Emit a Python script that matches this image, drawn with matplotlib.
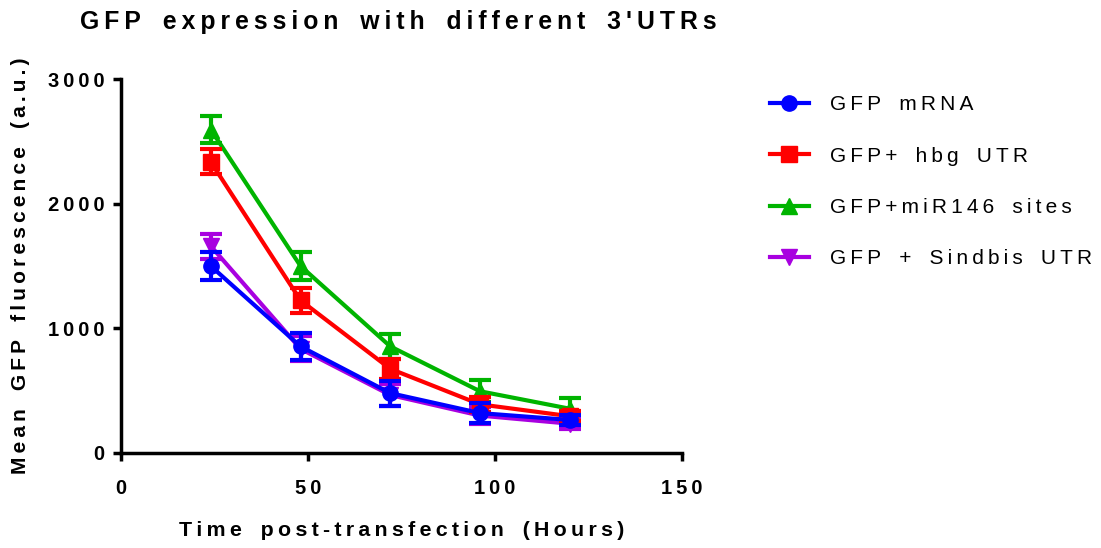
import matplotlib
matplotlib.use("Agg")
import matplotlib.pyplot as plt
from matplotlib.lines import Line2D

plt.rcParams['font.family'] = ['Liberation Sans', 'DejaVu Sans']

# data
hours = [24, 48, 72, 96, 120]
gfp_mrna = [1500, 855, 480, 320, 265]
gfp_mrna_err = [110, 110, 100, 80, 40]
gfp_hbg = [2335, 1225, 675, 390, 295]
gfp_hbg_err = [100, 100, 80, 60, 40]
gfp_mir146 = [2595, 1500, 855, 495, 355]
gfp_mir146_err = [110, 110, 100, 90, 90]
gfp_sindbis = [1660, 835, 465, 300, 235]
gfp_sindbis_err = [100, 100, 90, 70, 40]

labels = ["GFP mRNA", "GFP+ hbg UTR", "GFP+miR146 sites", "GFP + Sindbis UTR"]
colors = ["#0000FF", "#FF0000", "#00B400", "#A800E0"]
markers = ["o", "s", "^", "v"]
xticks = [0, 50, 100, 150]
yticks = [0, 1000, 2000, 3000]


def spaced(s, sep="\u2009"):
    # Prism-style letter spacing, wider gaps between words
    words = [sep.join(w) for w in s.split(" ")]
    return (sep + " " + sep + "\u2009").join(words)


fig = plt.figure(figsize=(11.01, 5.48), dpi=100)
ax = fig.add_axes([0.1099, 0.1734, 0.5095, 0.6824])

series = [
    (gfp_mrna, gfp_mrna_err),
    (gfp_hbg, gfp_hbg_err),
    (gfp_mir146, gfp_mir146_err),
    (gfp_sindbis, gfp_sindbis_err),
]
zorders = [6, 5, 3, 4]
handles = []
for (y, e), lab, c, m, z in zip(series, labels, colors, markers, zorders):
    ax.errorbar(hours, y, yerr=e, color=c, marker=m, markersize=11,
                linewidth=3, elinewidth=3, capsize=8, capthick=3, zorder=z)
    handles.append(Line2D([], [], color=c, marker=m, markersize=11,
                          linewidth=3, label=spaced(lab)))

ax.set_xlim(0, 150)
ax.set_ylim(0, 3000)
ax.set_xticks(xticks)
ax.set_yticks(yticks)
for sp in ["top", "right"]:
    ax.spines[sp].set_visible(False)
for sp in ["left", "bottom"]:
    ax.spines[sp].set_linewidth(2.5)
ax.tick_params(direction="out", length=6, width=2.5, labelsize=14.5)
ax.tick_params(axis="x", pad=13)
ax.tick_params(axis="y", pad=6)
ax.set_xticklabels([spaced(str(v)) for v in xticks], fontweight="bold")
ax.set_yticklabels([spaced(str(v)) for v in yticks], fontweight="bold")

ax.set_xlabel(spaced("Time post-transfection (Hours)"), fontsize=15.4,
              fontweight="bold", labelpad=16)
ax.set_ylabel(spaced("Mean GFP fluorescence (a.u.)"), fontsize=15,
              fontweight="bold", labelpad=13)

fig.text(0.073, 0.96, spaced("GFP expression with different 3'UTRs"),
         fontsize=17.8, fontweight="bold", ha="left", va="center")

fig.legend(handles=handles, loc="upper left", bbox_to_anchor=(0.682, 0.86),
           frameon=False, fontsize=15, handlelength=1.9, handletextpad=1.0,
           labelspacing=1.55)

fig.savefig("out.png", dpi=100)
